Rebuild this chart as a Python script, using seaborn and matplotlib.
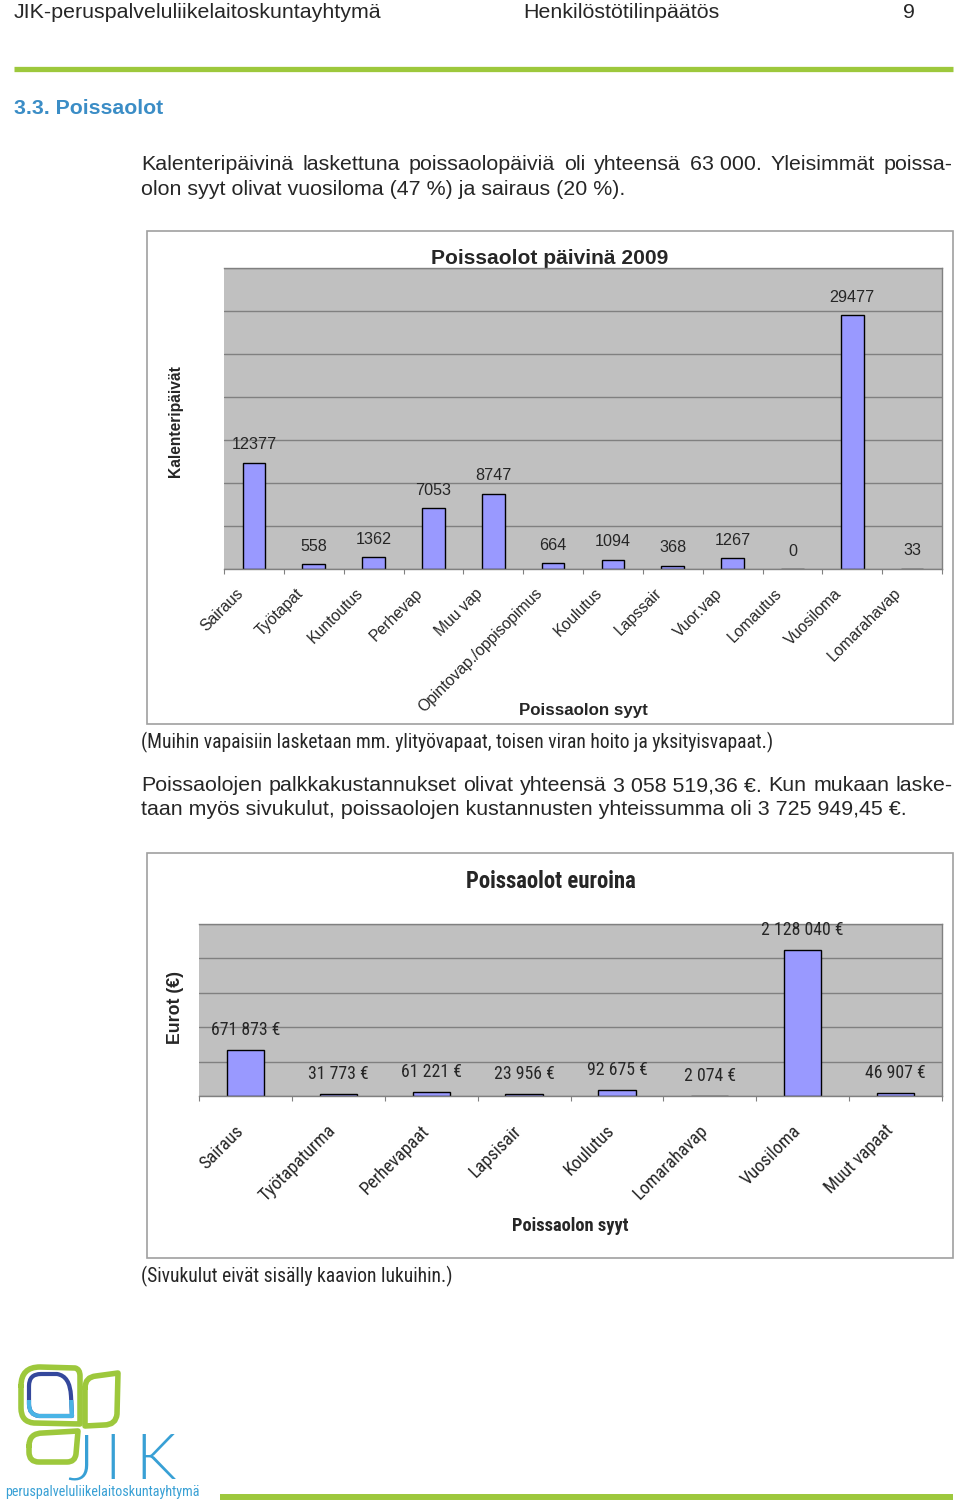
import numpy as np
import pandas as pd
import seaborn as sns
import matplotlib
matplotlib.use("Agg")
import matplotlib.pyplot as plt
from matplotlib import font_manager
from matplotlib.path import Path
from matplotlib.patches import PathPatch, Rectangle
from matplotlib.transforms import ScaledTranslation

# ---------------- data ----------------
days_categories = ["Sairaus", "Työtapat", "Kuntoutus", "Perhevap", "Muu vap",
                   "Opintovap./oppisopimus", "Koulutus", "Lapssair", "Vuor.vap",
                   "Lomautus", "Vuosiloma", "Lomarahavap"]
days_values = [12377, 558, 1362, 7053, 8747, 664, 1094, 368, 1267, 0, 29477, 33]
days_ymax = 35000
days_ystep = 5000

euro_categories = ["Sairaus", "Työtapaturma", "Perhevapaat", "Lapsisair",
                   "Koulutus", "Lomarahavap", "Vuosiloma", "Muut vapaat"]
euro_values = [671873, 31773, 61221, 23956, 92675, 2074, 2128040, 46907]
euro_ymax = 2500000
euro_ystep = 500000

# ---------------- style ----------------
sns.set_theme(style="white")
plt.rcParams["font.family"] = ["Liberation Sans", "DejaVu Sans"]
REG = ["Liberation Sans", "DejaVu Sans"]

# pick a condensed face if one is installed
ttf = font_manager.fontManager.ttflist
names = {f.name for f in ttf}
NARROW = dict(family=REG, fontstretch="normal")
if "Liberation Sans Narrow" in names:
    NARROW = dict(family=["Liberation Sans Narrow", "DejaVu Sans"], fontstretch="normal")
elif "Roboto Condensed" in names:
    NARROW = dict(family=["Roboto Condensed", "DejaVu Sans"], fontstretch="normal")
else:
    for fam in ("Noto Sans", "Open Sans", "DejaVu Sans", "Roboto"):
        st = [f.stretch for f in ttf if f.name == fam and f.stretch in ("condensed", "semi-condensed")]
        if st:
            NARROW = dict(family=[fam, "DejaVu Sans"], fontstretch=st[0])
            break

GREEN = "#9dc83c"
BLUE_HEAD = "#3b8dc6"
LOGO_BLUE = "#38a0d5"
BAR = "#9999ff"
PLOT_BG = "#c0c0c0"
GRID = "#808080"

W, H = 960, 1503
fig = plt.figure(figsize=(W / 100, H / 100), dpi=100)
page = fig.add_axes([0, 0, 1, 1])
page.set_xlim(0, W)
page.set_ylim(H, 0)
page.axis("off")
renderer = fig.canvas.get_renderer()


def size_for(s, width, **kw):
    t = page.text(0, 0, s, fontsize=10, **kw)
    w = t.get_window_extent(renderer).width
    t.remove()
    return 10.0 * width / w


def justify(y, line, x0, x1, fs, **kw):
    words = line.split(" ")
    ts = [page.text(x0, y, w, fontsize=fs, ha="left", va="baseline", **kw) for w in words]
    widths = [t.get_window_extent(renderer).width for t in ts]
    gap = (x1 - x0 - sum(widths)) / (len(words) - 1)
    x = x0
    for t, w in zip(ts, widths):
        t.set_x(x)
        x += w + gap


# ---------------- page header ----------------
hfs = size_for("JIK-peruspalveluliikelaitoskuntayhtymä", 368, family=REG)
page.text(14, 18, "JIK-peruspalveluliikelaitoskuntayhtymä", fontsize=hfs, family=REG, va="baseline")
page.text(523, 18, "Henkilöstötilinpäätös", fontsize=hfs, family=REG, va="baseline")
page.text(909, 18, "9", fontsize=hfs, family=REG, va="baseline", ha="center")
page.plot([14, 953], [69, 69], color=GREEN, lw=3.8, solid_capstyle="butt")

sfs = size_for("3.3. Poissaolot", 149, family=REG, fontweight="bold")
page.text(14, 114.5, "3.3. Poissaolot", fontsize=sfs, family=REG, fontweight="bold",
          color=BLUE_HEAD, va="baseline")

pfs = size_for("olon syyt olivat vuosiloma (47 %) ja sairaus (20 %).", 485, family=REG)
justify(170, "Kalenteripäivinä laskettuna poissaolopäiviä oli yhteensä 63\u00a0000. Yleisimmät poissa-",
        141, 953, pfs, family=REG)
page.text(141, 195, "olon syyt olivat vuosiloma (47 %) ja sairaus (20 %).", fontsize=pfs,
          family=REG, va="baseline")

nfs = size_for("(Muihin vapaisiin lasketaan mm. ylityövapaat, toisen viran hoito ja yksityisvapaat.)", 632, **NARROW)
page.text(141, 748, "(Muihin vapaisiin lasketaan mm. ylityövapaat, toisen viran hoito ja yksityisvapaat.)",
          fontsize=nfs, va="baseline", **NARROW)

justify(791, "Poissaolojen palkkakustannukset olivat yhteensä 3\u00a0058\u00a0519,36\u00a0€. Kun mukaan laske-",
        141, 953, pfs, family=REG)
page.text(141, 815, "taan myös sivukulut, poissaolojen kustannusten yhteissumma oli 3 725 949,45 €.",
          fontsize=pfs, family=REG, va="baseline")

n2fs = size_for("(Sivukulut eivät sisälly kaavion lukuihin.)", 311, **NARROW)
page.text(141, 1282, "(Sivukulut eivät sisälly kaavion lukuihin.)", fontsize=n2fs, va="baseline", **NARROW)

# chart frames
page.add_patch(Rectangle((147, 231), 806, 493, fill=False, edgecolor="#a0a0a0", lw=1.2))
page.add_patch(Rectangle((147, 853), 806, 405, fill=False, edgecolor="#a0a0a0", lw=1.2))


def setup_axes(ax, cats, vals, ymax, ystep, width, tick_font, tick_fs, pad_px, shift_px,
               val_fs, val_font, val_off_px, fmt):
    df = pd.DataFrame({"cat": cats, "val": vals})
    sns.barplot(data=df, x="cat", y="val", color=BAR, saturation=1, width=width,
                edgecolor="black", linewidth=1.0, ax=ax)
    ax.set_facecolor(PLOT_BG)
    ax.set_xlim(-0.5, len(cats) - 0.5)
    ax.set_ylim(0, ymax)
    ax.set_yticks(np.arange(0, ymax + 1, ystep))
    ax.set_yticklabels([])
    ax.tick_params(axis="y", length=0, left=False)
    ax.grid(axis="y", color=GRID, lw=1.0)
    ax.grid(axis="x", visible=False)
    ax.set_axisbelow(True)
    ax.set_xlabel("")
    ax.set_ylabel("")
    for side in ("top", "right", "bottom"):
        ax.spines[side].set_visible(True)
        ax.spines[side].set_color(GRID)
        ax.spines[side].set_linewidth(1.0)
    ax.spines["left"].set_visible(False)
    ax.set_xticks(np.arange(-0.5, len(cats), 1), minor=True)
    ax.set_xticks(range(len(cats)))
    ax.set_xticklabels(cats, fontsize=tick_fs, fontfamily=tick_font["family"],
                       fontstretch=tick_font["fontstretch"])
    ax.tick_params(axis="x", which="minor", bottom=True, length=3.8, width=0.8,
                   color=GRID, direction="out")
    ax.tick_params(axis="x", which="major", bottom=True, length=0, pad=pad_px * 0.72)
    off = ScaledTranslation(shift_px / 100.0, 0, fig.dpi_scale_trans)
    for lab in ax.get_xticklabels():
        lab.set_rotation(45)
        lab.set_ha("right")
        lab.set_va("center")
        lab.set_rotation_mode("anchor")
        lab.set_transform(lab.get_transform() + off)
    for i, v in enumerate(vals):
        ax.annotate(fmt(v), (i, v), xytext=(0, val_off_px * 0.72), textcoords="offset points",
                    ha="center", va="center", fontsize=val_fs, **val_font)


REGF = dict(family=REG, fontstretch="normal")

# ---------------- chart 1 ----------------
ax1 = fig.add_axes([224 / W, 1 - 569 / H, 718 / W, 301 / H])
t1fs = size_for("Opintovap./oppisopimus", 168, **REGF)
v1fs = size_for("12377", 45, **REGF)
setup_axes(ax1, days_categories, days_values, days_ymax, days_ystep, 0.38, REGF, t1fs,
           22, -13, v1fs, REGF, 18, lambda v: f"{v}")
tt1 = size_for("Poissaolot päivinä 2009", 236, family=REG, fontweight="bold")
page.text(550, 258, "Poissaolot päivinä 2009", fontsize=tt1, family=REG, fontweight="bold",
          ha="center", va="center")
yl1 = size_for("Kalenteripäivät", 112, family=REG, fontweight="bold")
page.text(176, 421, "Kalenteripäivät", fontsize=yl1, family=REG, fontweight="bold",
          ha="center", va="center", rotation=90)
xl1 = size_for("Poissaolon syyt", 128, family=REG, fontweight="bold")
page.text(583, 710, "Poissaolon syyt", fontsize=xl1, family=REG, fontweight="bold",
          ha="center", va="center")

# ---------------- chart 2 ----------------
ax2 = fig.add_axes([199 / W, 1 - 1096 / H, 743 / W, 172 / H])
t2fs = size_for("Työtapaturma", 100, **NARROW)
v2fs = size_for("2 128 040 €", 81, **NARROW)
setup_axes(ax2, euro_categories, euro_values, euro_ymax, euro_ystep, 0.40, NARROW, t2fs,
           32, -5, v2fs, NARROW, 20, lambda v: f"{v:,}".replace(",", " ") + " €")
tt2 = size_for("Poissaolot euroina", 171, fontweight="bold", **NARROW)
page.text(551, 881, "Poissaolot euroina", fontsize=tt2, fontweight="bold",
          ha="center", va="center", **NARROW)
yl2 = size_for("Eurot (€)", 73, family=REG, fontweight="bold")
page.text(175, 1008, "Eurot (€)", fontsize=yl2, family=REG, fontweight="bold",
          ha="center", va="center", rotation=90)
xl2 = size_for("Poissaolon syyt", 117, fontweight="bold", **NARROW)
page.text(570, 1226, "Poissaolon syyt", fontsize=xl2, fontweight="bold",
          ha="center", va="center", **NARROW)

# ---------------- logo ----------------
M, L, C = Path.MOVETO, Path.LINETO, Path.CURVE3


def leaf(pts_codes, color, lw, clip=None):
    verts = [p for p, c in pts_codes]
    codes = [c for p, c in pts_codes]
    patch = PathPatch(Path(verts, codes), fill=False, edgecolor=color, lw=lw,
                      joinstyle="round", capstyle="round")
    page.add_patch(patch)
    if clip is not None:
        patch.set_clip_path(Rectangle(clip[0], clip[1], clip[2], transform=page.transData))
    return patch


upper_left = [((21, 1386), M), ((21, 1367), C), ((40, 1367), C), ((75, 1368), L),
              ((80, 1369), C), ((80, 1376), C), ((80, 1424), L), ((34, 1423), L),
              ((21, 1422), C), ((21, 1408), C), ((21, 1386), L)]
leaf(upper_left, GREEN, 4.0)
inner = [((29, 1386), M), ((29, 1374), C), ((41, 1374), C), ((57, 1374), L),
         ((70, 1376), C), ((71, 1396), C), ((72, 1416), L), ((39, 1416), L),
         ((29, 1415), C), ((29, 1404), C), ((29, 1386), L)]
leaf(inner, "#34489c", 3.0)
leaf(inner, "#4ab4e6", 3.0, clip=((0, 1400), 200, 40))
right_leaf = [((85, 1388), M), ((85, 1377), C), ((96, 1376), C), ((118, 1373), L),
              ((117, 1414), L), ((116, 1425), C), ((104, 1425), C), ((85, 1426), L),
              ((85, 1388), L)]
leaf(right_leaf, GREEN, 4.0)
lower_leaf = [((29, 1446), M), ((29, 1433), C), ((43, 1433), C), ((78, 1431), L),
              ((76, 1454), L), ((75, 1462), C), ((67, 1462), C), ((39, 1462), L),
              ((29, 1462), C), ((29, 1452), C), ((29, 1446), L)]
leaf(lower_leaf, GREEN, 4.0)
for ch, xc in (("J", 80), ("I", 113), ("K", 156)):
    page.text(xc, 1479, ch, fontsize=46, family=["Lato", "DejaVu Sans"], fontweight=300,
              color=LOGO_BLUE, ha="center", va="baseline")
lfs = size_for("peruspalveluliikelaitoskuntayhtymä", 195, **NARROW)
page.text(5, 1492, "peruspalveluliikelaitoskuntayhtymä", fontsize=lfs,
          color=LOGO_BLUE, va="center", **NARROW)
page.plot([220, 953], [1497, 1497], color=GREEN, lw=4.3, solid_capstyle="butt")

fig.savefig("out.png", dpi=100)
